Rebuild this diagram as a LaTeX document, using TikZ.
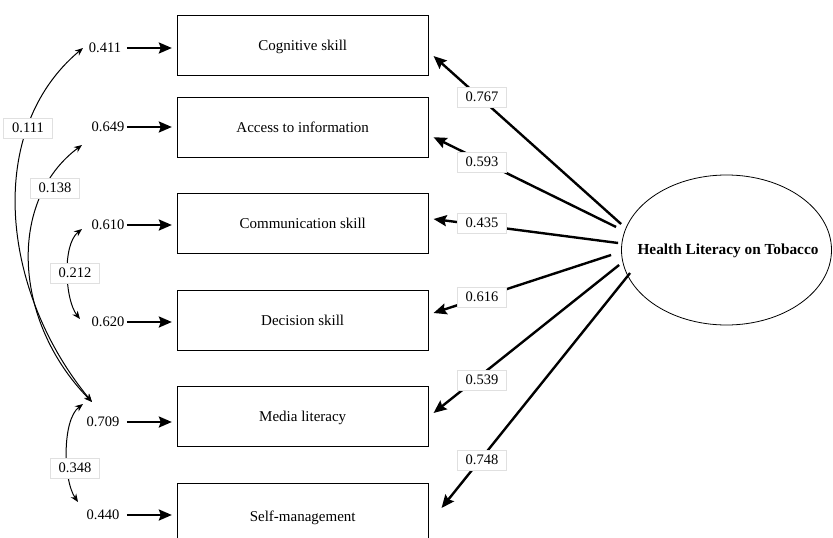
\documentclass[tikz,border=0pt]{standalone}
\usepackage{fontspec}
\setmainfont{Liberation Serif}
\usetikzlibrary{arrows.meta,shapes.geometric,calc}
\begin{document}
\begin{tikzpicture}[x=1pt,y=-1pt,
  box/.style={draw,line width=1pt,minimum width=250.7pt,minimum height=60pt,inner sep=0pt,text depth=0pt,font=\fontsize{15}{18}\selectfont},
  num/.style={inner sep=1pt,font=\fontsize{14.5}{17}\selectfont},
  lab/.style={fill=white,draw=black!12,line width=0.6pt,minimum width=49pt,minimum height=20pt,inner sep=0pt,font=\fontsize{14.5}{17}\selectfont},
  load/.style={line width=2.4pt,-{Stealth[length=13pt,width=11pt,inset=2pt]}},
  err/.style={line width=2.4pt,-{Stealth[length=13pt,width=11pt,inset=2pt]}},
  cov/.style={line width=1pt,{Stealth[length=8pt,width=6.5pt]}-{Stealth[length=8pt,width=6.5pt]}}]
\clip (0,0) rectangle (833,538);

% indicator boxes
\node[box] (b1) at (302.7,45.5) {Cognitive skill};
\node[box] (b2) at (302.7,127.2) {Access to information};
\node[box] (b3) at (302.7,223.3) {Communication skill};
\node[box] (b4) at (302.7,320.5) {Decision skill};
\node[box] (b5) at (302.7,416.7) {Media literacy};
\node[box,minimum height=66pt] (b6) at (302.7,516.5) {Self-management};

% latent variable
\node[draw,ellipse,line width=0.8pt,minimum width=210pt,minimum height=150pt,inner sep=0pt] (hl) at (726.5,250) {};
\node[font=\bfseries\fontsize{15.3}{18}\selectfont,inner sep=0pt] (hlt) at (728,251) {Health Literacy on Tobacco};

% error terms
\node[num] (e1) at (105,48) {0.411};
\node[num] (e2) at (108,127) {0.649};
\node[num] (e3) at (108,225) {0.610};
\node[num] (e4) at (108,322) {0.620};
\node[num] (e5) at (103,422) {0.709};
\node[num] (e6) at (103,515) {0.440};

\foreach \i in {1,...,6}{
  \draw[err] ($(b\i.west|-e\i)+(-50,0)$) -- ($(b\i.west|-e\i)+(-5,0)$);
}

% loadings
\draw[load] ($(hl.west)+(0,-26)$) -- ($(b1.east)+(5,10.5)$) node[lab] at (482,97) {0.767};
\draw[load] ($(hl.west)+(-5,-23)$) -- ($(b2.east)+(5,10)$) node[lab] at (482,162) {0.593};
\draw[load] ($(hl.west)+(-3,-7)$) -- ($(b3.east)+(5,-4.3)$) node[lab] at (482,223) {0.435};
\draw[load] ($(hl.west)+(-10,5)$) -- ($(b4.east)+(5,-7.5)$) node[lab] at (482,297) {0.616};
\draw[load] ($(hl.west)+(-2,15)$) -- ($(b5.east)+(5,-3.7)$) node[lab] at (482,380) {0.539};
\draw[load] ($(hl.west)+(9,23)$) -- ($(b6.east)+(13,-8.5)$) node[lab] at (482,460) {0.748};

% covariance end points
\coordinate (t411) at (83,48);
\coordinate (t649) at (82,145);
\coordinate (t610) at (82,229);
\coordinate (t620) at (80,319);
\coordinate (t709a) at (92,402);
\coordinate (t709b) at (83,404);
\coordinate (t440) at (78,502);

\draw[cov] (t411) .. controls (-15,130) and (0,290) .. (t709a) node[lab] at (28,128) {0.111};
\draw[cov] (t649) .. controls (8,200) and (12,320) .. (t709a) node[lab] at (55,188) {0.138};
\draw[cov] (t610) .. controls (62,245) and (65,300) .. (t620) node[lab] at (75,273) {0.212};
\draw[cov] (t709b) .. controls (62,420) and (63,480) .. (t440) node[lab] at (75,468) {0.348};
\end{tikzpicture}
\end{document}
